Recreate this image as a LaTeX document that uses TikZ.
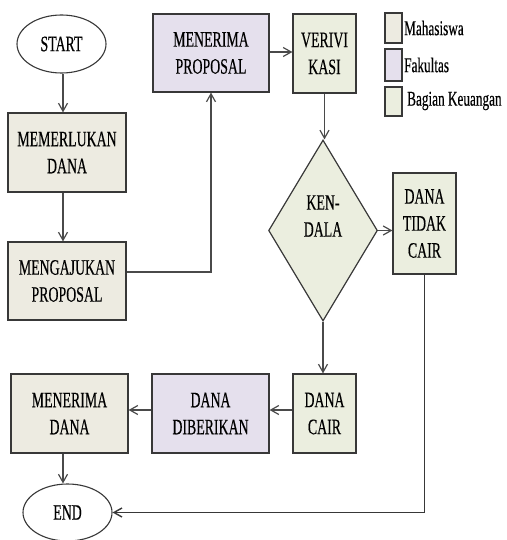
\documentclass[tikz,border=0pt]{standalone}
\usepackage{fontspec}
\setmainfont[FakeStretch=0.63,FakeBold=0.35]{Liberation Serif}
\usetikzlibrary{shapes.geometric,arrows.meta}
\definecolor{mhs}{HTML}{EDEBE1}
\definecolor{fak}{HTML}{E5E0ED}
\definecolor{keu}{HTML}{EBEEDF}
\definecolor{bord}{HTML}{383838}
\definecolor{conn}{HTML}{4A4A4A}
\tikzset{
  box/.style={draw=bord, line width=1.2pt, rectangle, align=center, inner sep=0pt,
    font=\fontsize{22}{27}\selectfont},
  oval/.style={draw=bord, line width=1.1pt, ellipse, inner sep=0pt, fill=white,
    font=\fontsize{22}{27}\selectfont},
  legbox/.style={draw=bord, line width=1.2pt, rectangle, inner sep=0pt, minimum width=17pt},
  legtext/.style={anchor=west, inner sep=0pt, font=\fontsize{21}{24}\selectfont},
  arr/.style={draw=conn, line width=1.2pt, -{Straight Barb[length=8pt,width=9pt]}},
  ln/.style={draw=conn, line width=1.2pt}
}
\begin{document}
\begin{tikzpicture}[x=1pt,y=-1pt]
\path[use as bounding box, fill=white] (0,0) rectangle (506,540);
% ovals
\node[oval, minimum width=89pt, minimum height=58pt] (start) at (61.5,44) {START};
\node[oval, minimum width=89pt, minimum height=57pt] (end) at (67.5,512.5) {END};
% left column
\node[box, fill=mhs, minimum width=118pt, minimum height=79pt] (mem) at (67,152.5) {MEMERLUKAN\\DANA};
\node[box, fill=mhs, minimum width=118pt, minimum height=78pt] (aju) at (67,281) {MENGAJUKAN\\PROPOSAL};
% top
\node[box, fill=fak, minimum width=116pt, minimum height=78pt] (mprop) at (211,53) {MENERIMA\\PROPOSAL};
\node[box, fill=keu, minimum width=63pt, minimum height=79pt] (ver) at (324.5,53.5) {VERIVI\\KASI};
% decision
\node[diamond, draw=bord, line width=1.2pt, fill=keu, inner sep=0pt, aspect=1,
  minimum width=107pt, minimum height=181pt, align=center,
  font=\fontsize{22}{27}\selectfont] (dia) at (323,230.5) {KEN-\\DALA\\[2pt]};
\node[box, fill=keu, minimum width=63pt, minimum height=101pt] (dtc) at (424.5,223.5) {DANA\\TIDAK\\CAIR};
% bottom row
\node[box, fill=mhs, minimum width=117pt, minimum height=79pt] (mdana) at (69.5,413.5) {MENERIMA\\DANA};
\node[box, fill=fak, minimum width=117pt, minimum height=79pt] (dib) at (210.5,413.5) {DANA\\DIBERIKAN};
\node[box, fill=keu, minimum width=63pt, minimum height=79pt] (dcair) at (324.5,413.5) {DANA\\CAIR};
% legend
\node[legbox, fill=mhs, minimum height=30pt] (l1) at (393.5,28) {};
\node[legbox, fill=fak, minimum height=32pt] (l2) at (393.5,65) {};
\node[legbox, fill=keu, minimum height=29pt] (l3) at (393.5,101.5) {};
\node[legtext] (t1) at (404,28) {Mahasiswa};
\node[legtext] (t2) at (404,65) {Fakultas};
\node[legtext] (t3) at (407,101) {Bagian Keuangan};
% connectors
\draw[arr] (start.south -| 63,0) -- (mem.north -| 63,0);
\draw[arr] (mem.south -| 63,0) -- (aju.north -| 63,0);
\draw[arr] (aju.east |- 0,272) -| (mprop.south);
\draw[arr] (mprop.east |- 0,52) -- (ver.west |- 0,52);
\draw[arr] (ver.south) -- (ver.south |- dia.north);
\draw[arr] (dia.east) -- (dia.east -| dtc.west);
\draw[arr] (dia.south) -- (dia.south |- dcair.north);
\draw[arr] (dcair.west |- 0,410) -- (dib.east |- 0,410);
\draw[arr] (dib.west |- 0,410) -- (mdana.east |- 0,410);
\draw[arr] (mdana.south -| 63,0) -- (end.north -| 63,0);
\draw[arr, draw=bord, line width=1.4pt] (dtc.south -| 424.5,0) |- (end.east);
\end{tikzpicture}
\end{document}
